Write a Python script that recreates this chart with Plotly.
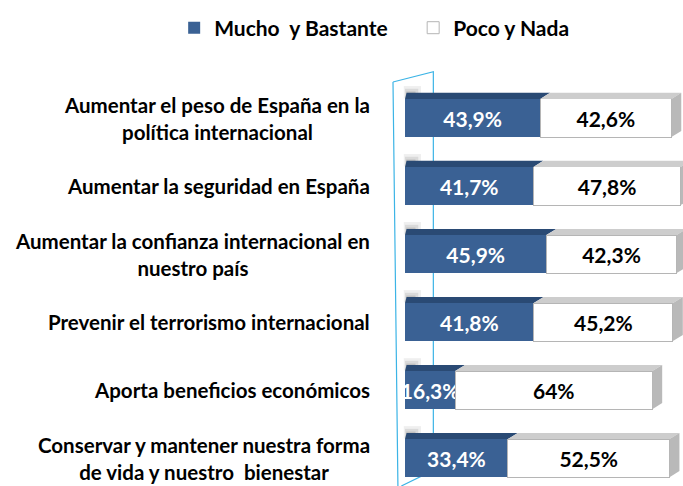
import plotly.graph_objects as go

# Survey results: share of respondents per answer group
categories = [
    "Aumentar el peso de España en la<br>política internacional",
    "Aumentar la seguridad en España",
    "Aumentar la confianza internacional en<br>nuestro país",
    "Prevenir el terrorismo internacional",
    "Aporta beneficios económicos",
    "Conservar y mantener nuestra forma<br>de vida y nuestro  bienestar",
]
mucho_bastante = [43.9, 41.7, 45.9, 41.8, 16.3, 33.4]
poco_nada = [42.6, 47.8, 42.3, 45.2, 64.0, 52.5]
series_names = ["Mucho  y Bastante", "Poco y Nada"]

BLUE = "#3A6194"
BLUE_TOP = "#2A4A74"
WHITE = "#FFFFFF"
GRAY_TOP = "#CDCDCD"
GRAY_SIDE = "#B9B9B9"
WALL = "#3CB4E6"
FONT = "Lato"


def pct(v):
    return f"{v:g}".replace(".", ",") + "%"


ypos = list(range(len(categories)))
bar_w = 0.56

fig = go.Figure()
fig.add_trace(go.Bar(
    y=ypos, x=mucho_bastante, orientation="h", name=series_names[0],
    marker=dict(color=BLUE, line=dict(width=0)),
    width=bar_w, text=[pct(v) for v in mucho_bastante],
    textposition="inside", insidetextanchor="middle", constraintext="none",
    textfont=dict(family=FONT, size=21, color="white", weight="bold"),
    cliponaxis=False,
))
fig.add_trace(go.Bar(
    y=ypos, x=poco_nada, orientation="h", name=series_names[1],
    marker=dict(color=WHITE, line=dict(width=1, color="#B5B5B5")),
    width=bar_w, text=[pct(v) for v in poco_nada],
    textposition="inside", insidetextanchor="middle", constraintext="none",
    textfont=dict(family=FONT, size=21, color="black", weight="bold"),
    cliponaxis=False,
))

# depth of the pseudo-3D faces, in axis units
dx, dy = 3.2, 0.09
shapes = []
for i, (a, b) in enumerate(zip(mucho_bastante, poco_nada)):
    top = i - bar_w / 2
    bot = i + bar_w / 2
    end = a + b
    # soft shadow where the bar meets the back wall
    for k, alpha in enumerate([0.12, 0.18, 0.26]):
        shapes.append(dict(
            type="rect", xref="x", yref="y", layer="below",
            x0=-0.4 + k * 0.4, x1=5.2 - k * 0.9,
            y0=top - 0.19 + k * 0.04, y1=top - 0.01,
            fillcolor=f"rgba(120,120,120,{alpha})", line=dict(width=0)))
    # top face of the blue segment
    shapes.append(dict(
        type="path", xref="x", yref="y", layer="above",
        path=f"M 0,{top} L {a},{top} L {a+dx},{top-dy} L {0.5},{top-dy} Z",
        fillcolor=BLUE_TOP, line=dict(width=0)))
    # top face of the white segment
    shapes.append(dict(
        type="path", xref="x", yref="y", layer="above",
        path=f"M {a},{top} L {end},{top} L {end+dx},{top-dy} L {a+dx},{top-dy} Z",
        fillcolor=GRAY_TOP, line=dict(width=0)))
    # right-hand end face
    shapes.append(dict(
        type="path", xref="x", yref="y", layer="above",
        path=f"M {end},{top} L {end+dx},{top-dy} L {end+dx},{bot-dy} L {end},{bot} Z",
        fillcolor=GRAY_SIDE, line=dict(width=0)))

# back wall outline
wall_path = ("M -3.9,-0.53 L 9.2,-0.68 L 9.2,5.18 L -1.2,5.41 "
             "M -3.9,-0.53 L -2.3,5.41")
shapes.append(dict(type="path", xref="x", yref="y", layer="below",
                   path=wall_path, line=dict(color=WALL, width=1.2)))

annotations = []
for i, cat in enumerate(categories):
    annotations.append(dict(
        x=-10.8, y=i, xref="x", yref="y", text=cat, showarrow=False,
        xanchor="right", yanchor="middle", align="center",
        font=dict(family=FONT, size=20.5, color="black", weight="bold"),
    ))

fig.update_layout(
    width=683, height=486,
    margin=dict(l=0, r=0, t=60, b=0),
    paper_bgcolor="white", plot_bgcolor="white",
    barmode="stack", bargap=0.4,
    showlegend=True,
    legend=dict(
        orientation="h", x=0.255, y=1.075, xanchor="left", yanchor="middle",
        font=dict(family=FONT, size=21, color="black", weight="bold"),
        traceorder="normal", entrywidth=194, entrywidthmode="pixels",
    ),
    xaxis=dict(range=[-131.5, 90.26], visible=False, fixedrange=True),
    yaxis=dict(range=[5.41, -0.853], visible=False, fixedrange=True),
    shapes=shapes,
    annotations=annotations,
)

fig.write_html("out.html")
